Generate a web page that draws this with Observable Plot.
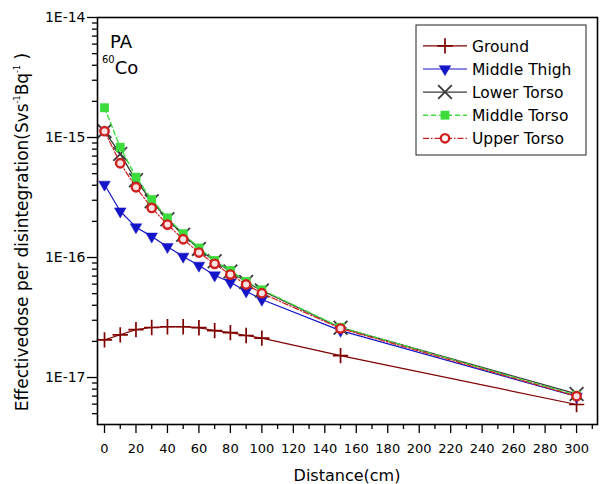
<!DOCTYPE html>
<html><head><meta charset="utf-8">
<script src="https://cdn.jsdelivr.net/npm/d3@7"></script>
<script src="https://cdn.jsdelivr.net/npm/@observablehq/plot@0.6"></script>
<style>
body{margin:0;background:#fff;}
#wrap{width:600px;height:484px;}
</style></head><body><div id="wrap"></div>
<script>
const distance = [0,10,20,30,40,50,60,70,80,90,100,150,300];
const ground = [2.06e-17,2.27e-17,2.51e-17,2.61e-17,2.65e-17,2.65e-17,2.6e-17,2.46e-17,2.37e-17,2.24e-17,2.13e-17,1.52e-17,5.96e-18];
const middleThigh = [4.06e-16,2.43e-16,1.79e-16,1.50e-16,1.23e-16,1.02e-16,8.58e-17,7.12e-17,6.22e-17,5.24e-17,4.47e-17,2.46e-17,6.95e-18];
const lowerTorso = [1.13e-15,7.3e-16,4.4e-16,2.95e-16,2.08e-16,1.55e-16,1.18e-16,9.3e-17,7.65e-17,6.25e-17,5.3e-17,2.6e-17,7.3e-18];
const middleTorso = [1.77e-15,8.3e-16,4.67e-16,3.04e-16,2.14e-16,1.58e-16,1.20e-16,9.44e-17,7.79e-17,6.31e-17,5.38e-17,2.62e-17,7.1e-18];
const upperTorso = [1.13e-15,6.1e-16,3.85e-16,2.59e-16,1.88e-16,1.42e-16,1.10e-16,8.86e-17,7.21e-17,5.96e-17,5.04e-17,2.56e-17,6.99e-18];

const seriesNames = ["Ground","Middle Thigh","Lower Torso","Middle Torso","Upper Torso"];
const seriesValues = [ground, middleThigh, lowerTorso, middleTorso, upperTorso];

const xMajorTicks = [0,20,40,60,80,100,120,140,160,180,200,220,240,260,280,300];
const xMinorTicks = [10,30,50,70,90,110,130,150,170,190,210,230,250,270,290,310];
const yMajorTicks = [1e-17,1e-16,1e-15,1e-14];

const styles = {
  "Ground":       {stroke:"#800000", dash:null,        symbol:"plus",     fill:"none",    sw:1.7, r:5,   rotate:0,   lw:1.2},
  "Middle Thigh": {stroke:"#1414c8", dash:null,        symbol:"triangle", fill:"#1414c8", sw:0.5, r:4.3, rotate:180, lw:1.2},
  "Lower Torso":  {stroke:"#3a3a3a", dash:null,        symbol:"times",    fill:"none",    sw:1.8, r:6.3, rotate:0,   lw:1.3},
  "Middle Torso": {stroke:"#3cdc3c", dash:"5,3",       symbol:"square",   fill:"#3cdc3c", sw:0,   r:5,   rotate:0,   lw:1.4},
  "Upper Torso":  {stroke:"#d02020", dash:"6,2,1.5,2", symbol:"circle",   fill:"#fbe3e3", sw:2.4, r:4.2, rotate:0,   lw:1.2}
};

const rows = [];
seriesNames.forEach((name, i) => {
  distance.forEach((d, j) => rows.push({series: name, distance: d, value: seriesValues[i][j]}));
});

const yMinorTicks = [];
for (let e = -18; e <= -15; e++) for (let m = 2; m <= 9; m++) {
  const v = m * Math.pow(10, e);
  if (v >= 4.06e-18 && v <= 1e-14) yMinorTicks.push(v);
}

const seriesMarks = [];
seriesNames.forEach(name => {
  const s = styles[name];
  const data = rows.filter(r => r.series === name);
  seriesMarks.push(Plot.line(data, {x:"distance", y:"value", stroke:s.stroke, strokeWidth:s.lw, strokeDasharray:s.dash}));
  seriesMarks.push(Plot.dot(data, {x:"distance", y:"value", symbol:s.symbol, r:s.r, fill:s.fill, stroke:s.stroke, strokeWidth:s.sw, rotate:s.rotate}));
});

const chart = Plot.plot({
  width: 600, height: 484,
  marginLeft: 97, marginRight: 3, marginTop: 17, marginBottom: 60,
  style: {fontFamily: "DejaVu Sans", background: "#fff", color: "#000"},
  x: {domain: [-4.45, 313.3], label: null},
  y: {type: "log", domain: [4.06e-18, 1e-14], label: null},
  marks: [
    Plot.axisX({ticks: xMinorTicks, tickSize: 5, tickFormat: () => "", label: null, strokeWidth: 1.3}),
    Plot.axisX({ticks: xMajorTicks, tickSize: 9, tickPadding: 10, fontSize: 13, tickFormat: d => String(d), label: null, strokeWidth: 1.3}),
    Plot.axisY({ticks: yMinorTicks, tickSize: 5, tickFormat: () => "", label: null, strokeWidth: 1.3}),
    Plot.axisY({ticks: yMajorTicks, tickSize: 10, tickPadding: 2, fontSize: 14, tickFormat: d => "1E" + Math.round(Math.log10(d)), label: null, strokeWidth: 1.3}),
    ...seriesMarks,
    Plot.frame({stroke: "#000", strokeWidth: 1.6})
  ]
});

document.getElementById("wrap").appendChild(chart);
const svg = d3.select(chart);

// Y axis title with superscripts
const yl = svg.append("text")
  .attr("transform", "translate(28,232) rotate(-90)")
  .attr("text-anchor", "middle")
  .attr("font-family", "DejaVu Sans").attr("font-size", 17).attr("fill", "#000");
yl.append("tspan").text("Effectivedose per disintegration(Svs");
yl.append("tspan").attr("font-size", 8).attr("dy", -8).text("-1");
yl.append("tspan").attr("dy", 8).text("Bq");
yl.append("tspan").attr("font-size", 8).attr("dy", -8).text("-1");
yl.append("tspan").attr("dy", 8).text(" )");

// X axis title
svg.append("text").attr("x", 347).attr("y", 481).attr("text-anchor", "middle")
  .attr("font-family", "DejaVu Sans").attr("font-size", 16).attr("fill", "#000").text("Distance(cm)");

// Annotations
svg.append("text").attr("x", 110).attr("y", 47.5).attr("text-anchor", "start")
  .attr("font-family", "DejaVu Sans").attr("font-size", 18).attr("fill", "#000").text("PA");
const co = svg.append("text").attr("x", 102).attr("y", 63).attr("text-anchor", "start")
  .attr("font-family", "DejaVu Sans").attr("fill", "#000");
co.append("tspan").attr("font-size", 10).text("60");
co.append("tspan").attr("font-size", 18).attr("dy", 10.5).text("Co");

// Legend
const lg = svg.append("g").attr("font-family", "DejaVu Sans").attr("font-size", 15.5).attr("text-anchor", "start");
lg.append("rect").attr("x", 416).attr("y", 25).attr("width", 170).attr("height", 130)
  .attr("fill", "#fff").attr("stroke", "#222").attr("stroke-width", 1);
const symMap = {plus: d3.symbolPlus, triangle: d3.symbolTriangle, times: d3.symbolTimes, square: d3.symbolSquare, circle: d3.symbolCircle};
seriesNames.forEach((name, i) => {
  const s = styles[name];
  const base = 51.7 + i * 23.1;
  const cy = base - 5.8;
  lg.append("line").attr("x1", 423).attr("x2", 467).attr("y1", cy).attr("y2", cy)
    .attr("stroke", s.stroke).attr("stroke-width", s.lw).attr("stroke-dasharray", s.dash);
  lg.append("path").attr("d", d3.symbol(symMap[s.symbol], Math.PI * s.r * s.r)())
    .attr("transform", `translate(445,${cy}) rotate(${s.rotate})`)
    .attr("fill", name === "Upper Torso" ? "#fff" : s.fill).attr("stroke", s.stroke).attr("stroke-width", s.sw);
  lg.append("text").attr("x", 472).attr("y", base).attr("text-anchor", "start").attr("fill", "#000").text(name);
});
</script>
</body></html>
